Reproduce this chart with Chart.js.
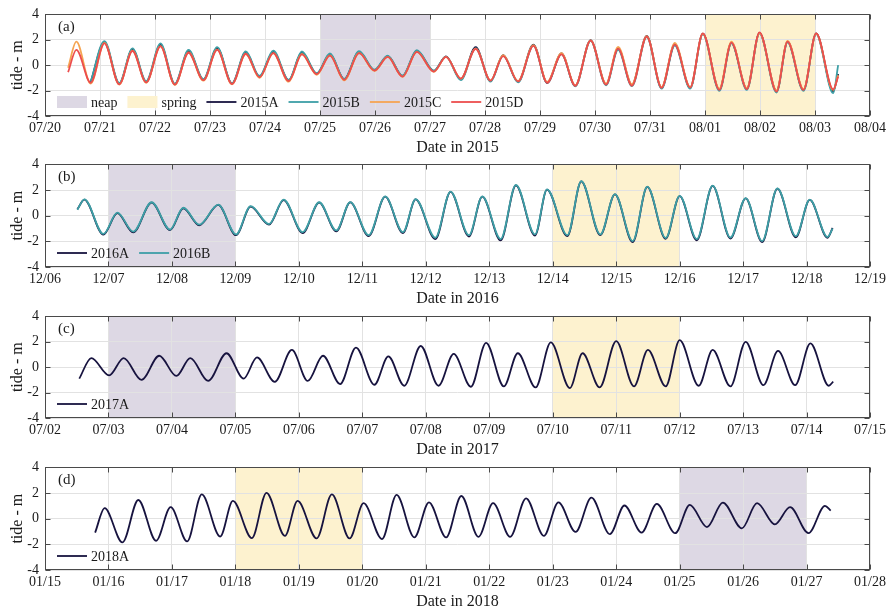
<!DOCTYPE html>
<html>
<head>
<meta charset="utf-8">
<script src="https://cdn.jsdelivr.net/npm/chart.js@4.4.1/dist/chart.umd.min.js"></script>
<style>
  body { margin: 0; background: #fff; overflow: hidden; }
  canvas { position: absolute; left: 0; }
</style>
</head>
<body>
<canvas id="c2015" width="890" height="158" style="top:0px"></canvas>
<canvas id="c2016" width="890" height="159" style="top:150px"></canvas>
<canvas id="c2017" width="890" height="158" style="top:302px"></canvas>
<canvas id="c2018" width="890" height="159" style="top:453px"></canvas>
<script>
// tick labels (one per day on the x axis)
const ticks2015 = ['07/20','07/21','07/22','07/23','07/24','07/25','07/26','07/27','07/28','07/29','07/30','07/31','08/01','08/02','08/03','08/04'];
const ticks2016 = ['12/06','12/07','12/08','12/09','12/10','12/11','12/12','12/13','12/14','12/15','12/16','12/17','12/18','12/19'];
const ticks2017 = ['07/02','07/03','07/04','07/05','07/06','07/07','07/08','07/09','07/10','07/11','07/12','07/13','07/14','07/15'];
const ticks2018 = ['01/15','01/16','01/17','01/18','01/19','01/20','01/21','01/22','01/23','01/24','01/25','01/26','01/27','01/28'];

// neap / spring periods, in days from the first tick
const neap2015 = [5, 7],   spring2015 = [12, 14];
const neap2016 = [1, 3],   spring2016 = [8, 10];
const neap2017 = [1, 3],   spring2017 = [8, 10];
const neap2018 = [10, 12], spring2018 = [3, 5];

// high and low waters (days from first tick, metres)
const days2015 = [0.42, 0.57, 0.83, 1.08, 1.35, 1.59, 1.84, 2.10, 2.36, 2.61, 2.88, 3.13, 3.40, 3.65, 3.90, 4.15, 4.43, 4.67, 4.94, 5.18, 5.44, 5.71, 5.99, 6.23, 6.50, 6.76, 7.07, 7.29, 7.56, 7.83, 8.10, 8.33, 8.60, 8.88, 9.13, 9.39, 9.64, 9.92, 10.20, 10.42, 10.67, 10.94, 11.21, 11.45, 11.73, 11.96, 12.26, 12.48, 12.76, 12.99, 13.30, 13.50, 13.79, 14.02, 14.33, 14.42];
const tide2015A = [null, null, -1.35, 1.80, -1.45, 1.25, -1.32, 1.60, -1.50, 1.10, -1.15, 1.35, -1.45, 1.00, -0.92, 1.05, -1.20, 1.00, -0.68, 0.85, -1.12, 1.05, -0.40, 0.72, -0.85, 1.12, -0.45, 0.70, -1.10, 1.42, -1.25, 0.80, -1.30, 1.62, -1.40, 0.92, -1.62, 1.98, -1.50, 1.32, -1.55, 2.30, -1.78, 1.65, -1.78, 2.48, -1.92, 1.78, -1.85, 2.55, -2.05, 1.85, -1.95, 2.50, -2.05, -0.70];
const tide2015B = [null, null, -1.30, 1.90, -1.40, 1.33, -1.25, 1.72, -1.45, 1.20, -1.10, 1.43, -1.42, 1.08, -0.85, 1.15, -1.15, 1.08, -0.62, 0.92, -1.08, 1.10, -0.35, 0.76, -0.82, 1.18, -0.42, 0.68, -1.18, 1.33, -1.30, 0.75, -1.35, 1.55, -1.38, 0.88, -1.66, 1.92, -1.58, 1.20, -1.65, 2.22, -1.85, 1.55, -1.85, 2.45, -2.02, 1.72, -1.95, 2.50, -2.15, 1.80, -2.02, 2.45, -2.20, 0.00];
const tide2015C = [-0.20, 1.85, -1.45, 1.75, -1.52, 1.15, -1.38, 1.50, -1.55, 1.00, -1.22, 1.22, -1.50, 0.88, -1.00, 0.95, -1.30, 0.88, -0.75, 0.78, -1.20, 0.95, -0.45, 0.65, -0.92, 1.05, -0.52, 0.65, -1.05, 1.30, -1.20, 0.80, -1.25, 1.58, -1.32, 0.95, -1.58, 1.95, -1.45, 1.45, -1.50, 2.28, -1.72, 1.75, -1.72, 2.48, -1.85, 1.85, -1.80, 2.52, -1.98, 1.92, -1.88, 2.48, -1.95, -0.80];
const tide2015D = [-0.55, 1.20, -1.38, 1.72, -1.50, 1.12, -1.35, 1.48, -1.52, 0.98, -1.18, 1.20, -1.48, 0.90, -0.95, 0.95, -1.25, 0.85, -0.70, 0.75, -1.15, 0.95, -0.42, 0.66, -0.90, 1.05, -0.50, 0.66, -1.05, 1.28, -1.22, 0.72, -1.28, 1.52, -1.38, 0.85, -1.62, 1.93, -1.52, 1.30, -1.62, 2.25, -1.78, 1.62, -1.76, 2.50, -1.95, 1.78, -1.88, 2.58, -2.08, 1.85, -1.95, 2.50, -1.90, -0.90];

const days2016 = [0.51, 0.62, 0.92, 1.14, 1.39, 1.68, 1.97, 2.18, 2.43, 2.73, 3.01, 3.24, 3.53, 3.76, 4.06, 4.32, 4.59, 4.81, 5.10, 5.36, 5.64, 5.84, 6.15, 6.39, 6.68, 6.89, 7.18, 7.42, 7.72, 7.91, 8.23, 8.45, 8.75, 8.98, 9.26, 9.49, 9.78, 10.00, 10.27, 10.52, 10.80, 11.04, 11.30, 11.54, 11.83, 12.05, 12.33, 12.41];
const tide2016A = [0.50, 1.26, -1.48, 0.20, -1.30, 1.02, -1.13, 0.58, -0.75, 0.84, -1.52, 0.70, -0.70, 1.22, -1.35, 1.02, -1.22, 1.04, -1.60, 1.48, -1.35, 1.27, -1.82, 1.86, -1.62, 1.48, -1.93, 2.36, -1.55, 2.03, -1.60, 2.68, -1.52, 1.66, -2.06, 2.24, -1.80, 1.53, -1.92, 2.32, -1.78, 1.35, -2.06, 2.11, -1.68, 1.23, -1.72, -0.96];
const tide2016B = [0.47, 1.28, -1.42, 0.24, -1.24, 1.05, -1.08, 0.62, -0.70, 0.86, -1.46, 0.74, -0.65, 1.25, -1.28, 1.05, -1.15, 1.06, -1.52, 1.50, -1.28, 1.30, -1.72, 1.88, -1.52, 1.50, -1.82, 2.40, -1.46, 2.06, -1.52, 2.70, -1.46, 1.68, -1.98, 2.26, -1.74, 1.55, -1.82, 2.34, -1.70, 1.37, -1.98, 2.13, -1.60, 1.25, -1.66, -1.00];

const days2017 = [0.54, 0.73, 1.01, 1.24, 1.52, 1.80, 2.07, 2.29, 2.57, 2.86, 3.13, 3.34, 3.62, 3.89, 4.14, 4.38, 4.65, 4.90, 5.19, 5.41, 5.66, 5.92, 6.20, 6.44, 6.71, 6.95, 7.23, 7.45, 7.73, 7.97, 8.27, 8.47, 8.74, 9.00, 9.28, 9.50, 9.78, 10.00, 10.30, 10.52, 10.80, 11.04, 11.32, 11.55, 11.82, 12.06, 12.35, 12.42];
const tide2017A = [-0.90, 0.72, -0.64, 0.72, -1.00, 0.90, -0.69, 0.72, -1.08, 1.10, -0.90, 0.77, -1.15, 1.36, -1.08, 0.90, -1.33, 1.54, -1.38, 0.85, -1.46, 1.67, -1.46, 1.05, -1.54, 1.92, -1.51, 1.10, -1.59, 1.95, -1.64, 1.10, -1.59, 2.05, -1.51, 1.36, -1.51, 2.13, -1.46, 1.36, -1.51, 2.00, -1.41, 1.28, -1.41, 1.87, -1.46, -1.13];

const days2018 = [0.79, 0.94, 1.22, 1.47, 1.75, 1.98, 2.24, 2.47, 2.76, 2.96, 3.26, 3.49, 3.78, 3.98, 4.28, 4.52, 4.80, 5.02, 5.31, 5.54, 5.82, 6.05, 6.32, 6.56, 6.83, 7.06, 7.33, 7.58, 7.86, 8.09, 8.36, 8.61, 8.90, 9.13, 9.40, 9.64, 9.93, 10.16, 10.43, 10.68, 10.98, 11.22, 11.50, 11.74, 12.03, 12.29, 12.38];
const tide2018A = [-1.08, 0.82, -1.85, 1.46, -1.72, 0.90, -1.77, 1.89, -1.39, 1.39, -1.51, 2.02, -1.34, 1.39, -1.54, 1.89, -1.54, 1.21, -1.59, 1.85, -1.46, 1.28, -1.46, 1.77, -1.41, 1.21, -1.41, 1.59, -1.34, 1.28, -1.03, 1.64, -1.21, 1.03, -1.08, 1.16, -1.13, 1.08, -0.65, 1.26, -0.75, 1.21, -0.44, 0.90, -1.13, 1.00, 0.63];

const FONT = "'Times New Roman', 'Liberation Serif', serif";
const TEXT = '#1a1a1a';
const AXIS = '#4a4a4a';
const GRID = '#e2e2e2';
const neapColour = '#ddd8e4';
const springColour = '#fdf2cf';
const colA = '#17133f', colB = '#3d9fa6', colC = '#f5a452', colD = '#ec4d4d';
const LW = 1.8;

function toPoints(days, vals)
{
  return days.map((d, i) => ({ x: d, y: vals[i] }));
}

function line(label, days, vals, colour, order)
{
  return {
    label: label,
    data: toPoints(days, vals),
    borderColor: colour,
    borderWidth: LW,
    pointRadius: 0,
    fill: false,
    cubicInterpolationMode: 'monotone',
    order: order
  };
}

// shading, box with inward ticks, panel letter and the in-axes legend
function decorations(meta)
{
  return {
    id: 'deco',
    beforeDraw(chart) {
      const { ctx, chartArea: a, scales: { x } } = chart;
      ctx.save();
      meta.bands.forEach(b => {
        const x0 = x.getPixelForValue(b.range[0]);
        const x1 = x.getPixelForValue(b.range[1]);
        ctx.fillStyle = b.color;
        ctx.fillRect(x0, a.top, x1 - x0, a.bottom - a.top);
      });
      ctx.restore();
    },
    afterDraw(chart) {
      const { ctx, chartArea: a, scales: { x, y } } = chart;
      ctx.save();
      ctx.strokeStyle = AXIS;
      ctx.lineWidth = 1;
      const L = Math.round(a.left) + 0.5, R = Math.round(a.right) - 0.5;
      const T = Math.round(a.top) + 0.5, B = Math.round(a.bottom) - 0.5;
      ctx.strokeRect(L, T, R - L, B - T);
      ctx.beginPath();
      x.ticks.forEach(t => {
        const px = Math.round(x.getPixelForValue(t.value)) + 0.5;
        ctx.moveTo(px, B); ctx.lineTo(px, B - 5);
        ctx.moveTo(px, T); ctx.lineTo(px, T + 5);
      });
      y.ticks.forEach(t => {
        const py = Math.round(y.getPixelForValue(t.value)) + 0.5;
        ctx.moveTo(L, py); ctx.lineTo(L + 5, py);
        ctx.moveTo(R, py); ctx.lineTo(R - 5, py);
      });
      ctx.stroke();

      ctx.fillStyle = TEXT;
      ctx.textBaseline = 'middle';
      ctx.textAlign = 'left';
      ctx.font = '15px ' + FONT;
      ctx.fillText(meta.letter, a.left + 13, a.top + 13);

      // legend entries: bands first (only in panel a), then the series
      const items = [];
      if (meta.bandLegend) {
        meta.bands.forEach(b => items.push({ patch: true, color: b.color, label: b.label }));
      }
      chart.data.datasets.forEach(ds => items.push({ patch: false, color: ds.borderColor, label: ds.label }));

      ctx.font = '14px ' + FONT;
      let lx = a.left + 12;
      const ly = a.bottom - 14;
      items.forEach(it => {
        if (it.patch) {
          ctx.fillStyle = it.color;
          ctx.fillRect(lx, ly - 6, 30, 12);
        } else {
          ctx.strokeStyle = it.color;
          ctx.lineWidth = LW;
          ctx.beginPath();
          ctx.moveTo(lx, ly);
          ctx.lineTo(lx + 30, ly);
          ctx.stroke();
        }
        lx += 34;
        ctx.fillStyle = TEXT;
        ctx.fillText(it.label, lx, ly + 1);
        lx += ctx.measureText(it.label).width + 10;
      });
      ctx.restore();
    }
  };
}

function makePanel(id, year, labels, datasets, meta)
{
  const tickFont = { family: FONT, size: 14 };
  const titleFont = { family: FONT, size: 16 };
  return new Chart(document.getElementById(id), {
    type: 'line',
    data: { datasets: datasets },
    plugins: [decorations(meta)],
    options: {
      animation: false,
      responsive: false,
      devicePixelRatio: 1,
      layout: { padding: { top: 12, right: 18, bottom: 0, left: 0 } },
      plugins: { legend: { display: false }, tooltip: { enabled: false } },
      scales: {
        x: {
          type: 'linear',
          min: 0,
          max: labels.length - 1,
          afterFit: s => { s.height = 42; },
          ticks: {
            stepSize: 1, autoSkip: false, maxRotation: 0, padding: 4,
            color: TEXT, font: tickFont,
            callback: v => labels[Math.round(v)]
          },
          grid: { color: GRID, drawTicks: false },
          border: { display: false },
          title: { display: true, text: 'Date in ' + year, color: TEXT, font: titleFont, padding: { top: 0, bottom: 1 } }
        },
        y: {
          min: -4,
          max: 4,
          afterFit: s => { s.width = 45; },
          ticks: { stepSize: 2, padding: 6, color: TEXT, font: tickFont },
          grid: { color: GRID, drawTicks: false },
          border: { display: false },
          title: { display: true, text: 'tide - m', color: TEXT, font: titleFont, padding: { top: 8, bottom: 0 } }
        }
      }
    }
  });
}

makePanel('c2015', 2015, ticks2015, [
  line('2015A', days2015, tide2015A, colA, 4),
  line('2015B', days2015, tide2015B, colB, 3),
  line('2015C', days2015, tide2015C, colC, 2),
  line('2015D', days2015, tide2015D, colD, 1)
], { letter: '(a)', bandLegend: true, bands: [
  { range: neap2015, color: neapColour, label: 'neap' },
  { range: spring2015, color: springColour, label: 'spring' }
] });

makePanel('c2016', 2016, ticks2016, [
  line('2016A', days2016, tide2016A, colA, 2),
  line('2016B', days2016, tide2016B, colB, 1)
], { letter: '(b)', bandLegend: false, bands: [
  { range: neap2016, color: neapColour, label: 'neap' },
  { range: spring2016, color: springColour, label: 'spring' }
] });

makePanel('c2017', 2017, ticks2017, [
  line('2017A', days2017, tide2017A, colA, 1)
], { letter: '(c)', bandLegend: false, bands: [
  { range: neap2017, color: neapColour, label: 'neap' },
  { range: spring2017, color: springColour, label: 'spring' }
] });

makePanel('c2018', 2018, ticks2018, [
  line('2018A', days2018, tide2018A, colA, 1)
], { letter: '(d)', bandLegend: false, bands: [
  { range: spring2018, color: springColour, label: 'spring' },
  { range: neap2018, color: neapColour, label: 'neap' }
] });
</script>
</body>
</html>
